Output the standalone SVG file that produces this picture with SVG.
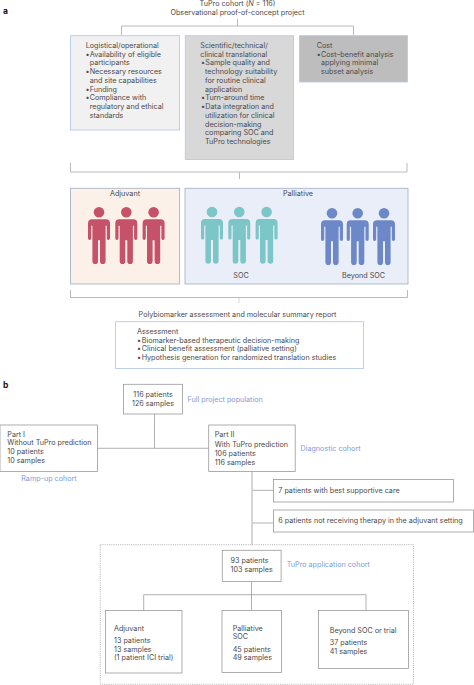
<svg xmlns="http://www.w3.org/2000/svg" width="474" height="685" viewBox="0 0 474 685">
<style>
text{font-family:"Inter","Liberation Sans",sans-serif;font-size:7.2px;fill:#4a4a4a}
.m{text-anchor:middle}
.lab{font-weight:700;font-size:8.5px;fill:#111}
.blue{fill:#7b9ddc}
.g{fill:#fff;stroke:#9a9a9a;stroke-width:.8}
.c{fill:none;stroke:#8f8f8f;stroke-width:.7}
.br{fill:none;stroke:#a8a8a8;stroke-width:.8}
.b1{stroke:#b8cbea;stroke-width:.9}
.b2{stroke:#aab4c8;stroke-width:.9}
</style>
<defs>
<g id="person">
<circle cx="0" cy="-7" r="5.3"/>
<path d="M-7,0H7Q11,0 11,4V19A1.6,1.6 0 0 1 7.8,19V6.5H6.6V42A2.8,2.8 0 0 1 1,42V21H-1V42A2.8,2.8 0 0 1 -6.6,42V6.5H-7.8V19A1.6,1.6 0 0 1 -11,19V4Q-11,0 -7,0Z"/>
</g>
</defs>
<text class="lab" x="3" y="14">a</text>
<text class="lab" x="3" y="388">b</text>
<g id="connectors">
<path class="br" d="M237.5,19V26M121.5,35.5V26H353.5V35.5"/>
<path class="br" d="M70.5,163V172H407V163M239.5,172V179"/>
<path class="br" d="M70.5,290V297.5H407.5V290"/>
<path d="M239,298V303" stroke="#d5d5d5" stroke-width="1" fill="none"/>
<path class="c" d="M154.5,414V448.3M97.5,448.3H208.7"/>
<path d="M252,471.5V544.7" stroke="#cfcfcf" stroke-width="1.7" fill="none"/>
<path class="c" d="M252.8,490.3H273.5M252.8,523H273.5"/>
<path class="c" d="M251.5,581.5V610.5M143.7,610.5V594.7H366V610.5"/>
</g>
<g id="title">
<text class="m" x="237.5" y="6">TuPro cohort (<tspan font-style="italic">N</tspan> = 116)</text>
<text class="m" x="237.5" y="14.5">Observational proof-of-concept project</text>
</g>
<g id="logistical">
<rect class="b1" x="70.5" y="35.7" width="109" height="94.3" fill="#f1f1f1"/>
<text x="85.7" y="48">Logistical/operational</text>
<text x="85.5" y="56.7">•</text><text x="89.7" y="56.7">Availability of eligible</text>
<text x="89.7" y="65.4">participants</text>
<text x="85.5" y="74.2">•</text><text x="89.7" y="74.2">Necessary resources</text>
<text x="89.7" y="82.9">and site capabilities</text>
<text x="85.5" y="91.6">•</text><text x="89.7" y="91.6">Funding</text>
<text x="85.5" y="100.3">•</text><text x="89.7" y="100.3">Compliance with</text>
<text x="89.7" y="109">regulatory and ethical</text>
<text x="89.7" y="117.8">standards</text>
</g>
<g id="scientific">
<rect class="b1" x="185.3" y="35.7" width="108.2" height="123.8" fill="#d8d8d8"/>
<text x="200.3" y="48">Scientific/technical/</text>
<text x="200.3" y="56.7">clinical translational</text>
<text x="201" y="65.4">•</text><text x="205.3" y="65.4">Sample quality and</text>
<text x="205" y="74.2">technology suitability</text>
<text x="205" y="82.9">for routine clinical</text>
<text x="205" y="91.6">application</text>
<text x="201" y="100.3">•</text><text x="205.3" y="100.3">Turn-around time</text>
<text x="201" y="109">•</text><text x="205.3" y="109">Data integration and</text>
<text x="205" y="117.8">utilization for clinical</text>
<text x="205" y="126.5">decision-making</text>
<text x="205" y="135.2">comparing SOC and</text>
<text x="205" y="144">TuPro technologies</text>
</g>
<g id="cost">
<rect class="b1" x="299.5" y="35.7" width="108" height="46.3" fill="#bdbdbd"/>
<text x="316.7" y="48">Cost</text>
<text x="316.7" y="56.7">•</text><text x="321" y="56.7">Cost–benefit analysis</text>
<text x="321" y="65.4">applying minimal</text>
<text x="321" y="74.2">subset analysis</text>
</g>
<g id="adjuvant-group">
<rect class="b2" x="70.5" y="188.3" width="109" height="95.7" fill="#fcf1e9"/>
<text class="m" x="125" y="196">Adjuvant</text>
<g fill="#c55268">
<use href="#person" x="99" y="219.3"/>
<use href="#person" x="126.3" y="219.3"/>
<use href="#person" x="153.6" y="219.3"/>
</g>
</g>
<g id="palliative-group">
<rect class="b2" x="185" y="188.3" width="223" height="95.7" fill="#e9eef8"/>
<text class="m" x="298" y="196">Palliative</text>
<g fill="#7cc6c8">
<use href="#person" x="212" y="219"/>
<use href="#person" x="239.3" y="219"/>
<use href="#person" x="266.6" y="219"/>
</g>
<g fill="#6d88c8">
<use href="#person" x="332" y="220.3"/>
<use href="#person" x="357.7" y="220.3"/>
<use href="#person" x="384" y="220.3"/>
</g>
<text class="m" x="241" y="277.5">SOC</text>
<text class="m" x="363.5" y="277.5">Beyond SOC</text>
</g>
<g id="report">
<text class="m" x="237.5" y="316.8">Polybiomarker assessment and molecular summary report</text>
<rect class="b1" x="115.5" y="321.7" width="248" height="46.8" fill="#fff"/>
<text x="137" y="333.8">Assessment</text>
<text x="137" y="342.5">•</text><text x="141.7" y="342.5">Biomarker-based therapeutic decision-making</text>
<text x="137" y="351.2">•</text><text x="141.7" y="351.2">Clinical benefit assessment (palliative setting)</text>
<text x="137" y="360">•</text><text x="141.7" y="360">Hypothesis generation for randomized translation studies</text>
</g>
<g id="full-population">
<rect class="g" x="123.5" y="384.3" width="59" height="29.7"/>
<text class="m" x="153" y="396.5">116 patients</text>
<text class="m" x="153" y="405.7">126 samples</text>
<text class="blue" x="187.5" y="401.5">Full project population</text>
</g>
<g id="part1">
<rect class="g" x="0" y="425" width="97.5" height="46.5"/>
<text x="7.3" y="436.5">Part I</text>
<text x="7.3" y="445.3">Without TuPro prediction</text>
<text x="7.3" y="454">10 patients</text>
<text x="7.3" y="462.8">10 samples</text>
<text class="blue m" x="49" y="480.7">Ramp-up cohort</text>
</g>
<g id="part2">
<rect class="g" x="208.7" y="425" width="86.5" height="46.5"/>
<text x="214.7" y="436.5">Part II</text>
<text x="214.7" y="446.6">With TuPro prediction</text>
<text x="214.7" y="455.7">106 patients</text>
<text x="214.7" y="464.7">116 samples</text>
<text class="blue" x="300.5" y="450.5">Diagnostic cohort</text>
</g>
<g id="supportive">
<rect class="g" x="273.5" y="479.5" width="180" height="22.5"/>
<text x="278.3" y="492.8">7 patients with best supportive care</text>
</g>
<g id="no-therapy">
<rect class="g" x="273.5" y="510" width="200" height="22"/>
<text x="278.3" y="523.3">6 patients not receiving therapy in the adjuvant setting</text>
</g>
<g id="application-cohort">
<rect x="100.3" y="544.7" width="313.2" height="139.6" fill="none" stroke="#8f8f8f" stroke-width=".7" stroke-dasharray="1 1.2"/>
<rect class="g" x="222.3" y="550.3" width="58.8" height="31.2"/>
<text x="230.5" y="563">93 patients</text>
<text x="230.5" y="572">103 samples</text>
<text class="blue" x="286.7" y="567.3">TuPro application cohort</text>
</g>
<g id="adjuvant">
<rect class="g" x="105.5" y="610.5" width="76.5" height="62.5"/>
<text x="114" y="630.5">Adjuvant</text>
<text x="114" y="642.7">13 patients</text>
<text x="114" y="651.7">13 samples</text>
<text x="114" y="660.3">(1 patient ICI trial)</text>
</g>
<g id="palliative">
<rect class="g" x="222" y="610.5" width="59.5" height="62"/>
<text x="232.7" y="630.5">Palliative</text>
<text x="232.7" y="639.2">SOC</text>
<text x="232.7" y="651.7">45 patients</text>
<text x="232.7" y="660.3">49 samples</text>
</g>
<g id="beyond">
<rect class="g" x="318.5" y="610.5" width="90" height="58"/>
<text x="329.7" y="632.5">Beyond SOC or trial</text>
<text x="329.7" y="644.7">37 patients</text>
<text x="329.7" y="653.7">41 samples</text>
</g>
</svg>
